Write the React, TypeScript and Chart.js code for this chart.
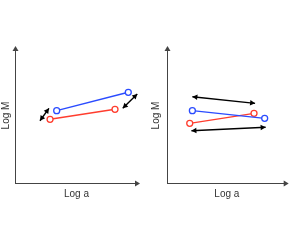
import React, { useEffect, useRef } from "react";
import { Chart, registerables } from "chart.js";
Chart.register(...registerables);

// Panel 1 (left)
const leftBlue = [{ x: 33.9, y: 53.6 }, { x: 92.1, y: 67.2 }];
const leftRed = [{ x: 28.5, y: 47.2 }, { x: 81.3, y: 54.6 }];
const leftArrowA = [{ x: 20.3, y: 46.1 }, { x: 27.6, y: 55.3 }];
const leftArrowB = [{ x: 87.6, y: 55.3 }, { x: 99.4, y: 65.9 }];

// Panel 2 (right)
const rightBlue = [{ x: 21.2, y: 53.6 }, { x: 81.6, y: 47.9 }];
const rightRed = [{ x: 19.0, y: 44.2 }, { x: 72.7, y: 51.6 }];
const rightArrowTop = [{ x: 21.2, y: 63.9 }, { x: 73.6, y: 59.0 }];
const rightArrowBottom = [{ x: 20.4, y: 38.7 }, { x: 82.4, y: 41.3 }];

const xTitle = "Log a";
const yTitle = "Log M";

const BLUE = "#2a4bff";
const RED = "#ff3d2e";
const AXIS = "#444444";
const TEXT = "#333333";

function head(ctx: CanvasRenderingContext2D, tx: number, ty: number, fx: number, fy: number, len: number, half: number) {
  const a = Math.atan2(ty - fy, tx - fx);
  ctx.beginPath();
  ctx.moveTo(tx, ty);
  ctx.lineTo(tx - len * Math.cos(a) + half * Math.sin(a), ty - len * Math.sin(a) - half * Math.cos(a));
  ctx.lineTo(tx - len * Math.cos(a) - half * Math.sin(a), ty - len * Math.sin(a) + half * Math.cos(a));
  ctx.closePath();
  ctx.fill();
}

const arrowPlugin = {
  id: "arrows",
  afterDraw(chart: any) {
    const ctx = chart.ctx as CanvasRenderingContext2D;
    const { left, right, top, bottom } = chart.chartArea;
    ctx.save();
    // axis arrowheads
    ctx.fillStyle = AXIS;
    head(ctx, left + 0.5, top - 2, left + 0.5, top + 10, 5, 3);
    head(ctx, right + 2, bottom + 0.5, right - 10, bottom + 0.5, 5, 3);
    // double arrows
    ctx.fillStyle = "#000";
    chart.data.datasets.forEach((ds: any, i: number) => {
      if (!ds.isArrow) return;
      const pts = chart.getDatasetMeta(i).data;
      const p0 = pts[0], p1 = pts[1];
      head(ctx, p0.x, p0.y, p1.x, p1.y, 5, 2.8);
      head(ctx, p1.x, p1.y, p0.x, p0.y, 5, 2.8);
    });
    ctx.restore();
  },
};

function makeConfig(series: any[], padLeft: number, yWidth: number, padRight: number) {
  const font = { family: "'Liberation Sans', Arial, sans-serif", size: 10 };
  return {
    type: "scatter" as const,
    data: {
      datasets: series.map((s) => ({
        data: s.data,
        showLine: true,
        borderColor: s.color,
        borderWidth: s.arrow ? 1.4 : 1.4,
        pointRadius: s.arrow ? 0 : 3,
        pointHoverRadius: s.arrow ? 0 : 3,
        pointBackgroundColor: "#ffffff",
        pointBorderColor: s.color,
        pointBorderWidth: 1.3,
        isArrow: !!s.arrow,
      })),
    },
    options: {
      animation: false,
      responsive: false,
      events: [],
      layout: { padding: { left: padLeft, right: padRight, top: 48, bottom: 49 } },
      plugins: { legend: { display: false }, tooltip: { enabled: false } },
      scales: {
        x: {
          type: "linear",
          min: 0,
          max: 100,
          grid: { display: false },
          ticks: { display: false },
          border: { display: true, color: AXIS, width: 1 },
          title: { display: true, text: xTitle, color: TEXT, font, padding: 0 },
          afterFit: (s: any) => { s.height = 17; },
        },
        y: {
          type: "linear",
          min: 0,
          max: 100,
          grid: { display: false },
          ticks: { display: false },
          border: { display: true, color: AXIS, width: 1 },
          title: { display: true, text: yTitle, color: TEXT, font, padding: 0 },
          afterFit: (s: any) => { s.width = yWidth; },
        },
      },
    },
    plugins: [arrowPlugin],
  };
}

function Panel({ series, left, width, padLeft, yWidth, padRight }: any) {
  const ref = useRef<HTMLCanvasElement>(null);
  useEffect(() => {
    const chart = new Chart(ref.current!, makeConfig(series, padLeft, yWidth, padRight) as any);
    return () => chart.destroy();
  }, []);
  return (
    <canvas
      ref={ref}
      width={width}
      height={249}
      style={{ position: "absolute", left, top: 0, width, height: 249 }}
    />
  );
}

export default function App() {
  const leftSeries = [
    { data: leftBlue, color: BLUE },
    { data: leftRed, color: RED },
    { data: leftArrowA, color: "#000", arrow: true },
    { data: leftArrowB, color: "#000", arrow: true },
  ];
  const rightSeries = [
    { data: rightBlue, color: BLUE },
    { data: rightRed, color: RED },
    { data: rightArrowTop, color: "#000", arrow: true },
    { data: rightArrowBottom, color: "#000", arrow: true },
  ];
  return (
    <div style={{ position: "absolute", left: 0, top: 0, width: 291, height: 249, background: "#fff" }}>
      <Panel series={leftSeries} left={0} width={145} padLeft={0} yWidth={15} padRight={7} />
      <Panel series={rightSeries} left={145} width={146} padLeft={5} yWidth={17} padRight={3} />
    </div>
  );
}
